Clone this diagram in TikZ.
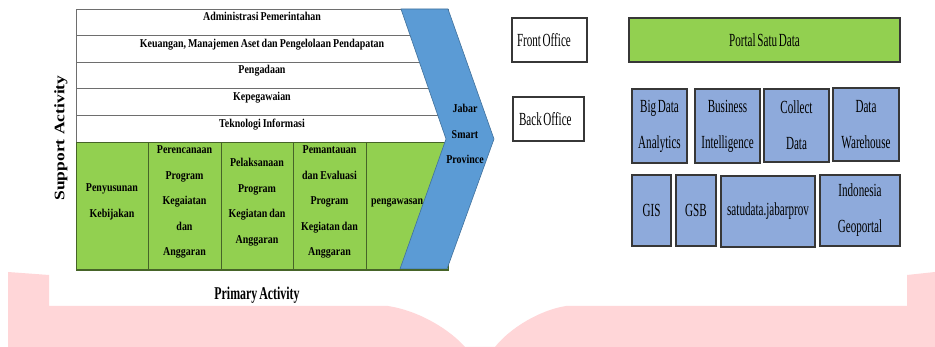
\documentclass[tikz,border=0pt]{standalone}
\usepackage{fontspec}
\setmainfont{Liberation Serif}
\newfontfamily\condB[FakeStretch=0.83,WordSpace=0.8]{Liberation Serif}
\newfontfamily\condR[FakeStretch=0.6,WordSpace=0.6]{Liberation Serif}
\newfontfamily\condP[FakeStretch=0.66,WordSpace=0.66]{Liberation Serif}
\usetikzlibrary{calc}
\definecolor{pinkbg}{RGB}{255,214,216}
\definecolor{grn}{RGB}{146,208,80}
\definecolor{grnline}{RGB}{70,100,40}
\definecolor{chev}{RGB}{91,155,213}
\definecolor{chevline}{RGB}{65,113,156}
\definecolor{lblue}{RGB}{142,170,219}
\definecolor{rowline}{RGB}{110,110,110}
\definecolor{boxline}{RGB}{55,55,55}
\tikzset{
  rowbox/.style={draw=rowline, fill=white, line width=0.9pt, minimum width=372pt, minimum height=26.6pt, inner sep=0pt, outer sep=0pt},
  cellbox/.style={draw=grnline, fill=grn, line width=0.9pt, minimum height=128pt, inner sep=0pt, outer sep=0pt},
  rowtxt/.style={font=\condB\bfseries\fontsize{12}{14}\selectfont, inner sep=0pt, text height=8.5pt, text depth=2.5pt},
  celltxt/.style={font=\condB\bfseries\fontsize{12}{25.5}\selectfont, align=center, inner sep=0pt},
  offbox/.style={draw=boxline, fill=white, line width=1.3pt, minimum height=44pt, inner sep=0pt, align=flush left, font=\condR\fontsize{18.5}{20}\selectfont},
  dbox/.style={draw=boxline, fill=lblue, line width=1.3pt, inner sep=0pt, align=center, font=\condR\fontsize{18.5}{36}\selectfont},
}
\begin{document}
\begin{tikzpicture}[x=1pt,y=-1pt]
\useasboundingbox (0,0) rectangle (935,347);
\fill[white] (0,0) rectangle (935,347);
% background watermark shape
\fill[pinkbg] (8,272) -- (49,275) -- (49,306) -- (388,306)
  .. controls (420,311) and (450,330) .. (465,347) -- (495,347)
  .. controls (510,328) and (540,310) .. (566,306) -- (907,306) -- (907,275)
  -- (935,272) -- (935,347) -- (8,347) -- cycle;

% support activity rows
\node[rowbox] (r1) at (262,22.3) {};
\node[rowbox] (r2) at (262,48.9) {};
\node[rowbox] (r3) at (262,75.5) {};
\node[rowbox] (r4) at (262,102.1) {};
\node[rowbox] (r5) at (262,128.7) {};
\node[rowtxt] (t1) at ($(r1)+(0,-4.5)$) {Administrasi Pemerintahan};
\node[rowtxt] (t2) at ($(r2)+(0,-4.5)$) {Keuangan, Manajemen Aset dan Pengelolaan Pendapatan};
\node[rowtxt] (t3) at ($(r3)+(0,-4.5)$) {Pengadaan};
\node[rowtxt] (t4) at ($(r4)+(0,-4.5)$) {Kepegawaian};
\node[rowtxt] (t5) at ($(r5)+(0,-4.5)$) {Teknologi Informasi};

% primary activity cells
\node[cellbox, minimum width=72pt] (c1) at (112,206) {};
\node[cellbox, minimum width=73pt] (c2) at (184.5,206) {};
\node[cellbox, minimum width=72pt] (c3) at (257,206) {};
\node[cellbox, minimum width=73pt] (c4) at (329.5,206) {};
\node[cellbox, minimum width=82pt] (c5) at (407,206) {};

% chevron
\fill[chev, draw=chevline, line width=0.6pt] (401,9) -- (448,9) -- (494,139) -- (447,269) -- (400,269) -- (446,139) -- cycle;
\draw[grnline, line width=1.2pt] (c1.south west) -- (c5.south east);

\node[celltxt] (ct1) at (112,202) {Penyusunan\\Kebijakan};
\node[celltxt] (ct2) at (184.5,202) {Perencanaan\\Program\\Kegaiatan\\dan\\Anggaran};
\node[celltxt] (ct3) at (257,202) {Pelaksanaan\\Program\\Kegiatan dan\\Anggaran};
\node[celltxt] (ct4) at (329.5,202) {Pemantauan\\dan Evaluasi\\Program\\Kegiatan dan\\Anggaran};
\node[rowtxt, anchor=west] (ct5) at (371,202) {pengawasan};
\node[celltxt] (jsp) at (465,134) {Jabar\\Smart\\Province};

% axis labels
\node[font=\bfseries\fontsize{17.5}{20}\selectfont, rotate=90, inner sep=0pt] (sa) at (61,138) {\scalebox{1}[0.83]{Support Activity}};
\node[font=\condP\bfseries\fontsize{18}{20}\selectfont, inner sep=0pt] (pa) at (257,295) {Primary Activity};

% right side
\node[offbox, minimum width=75pt, text width=65pt] (fo) at (549.5,40) {Front Office};
\node[offbox, minimum width=71pt, text width=59pt] (bo) at (548.5,119) {Back Office};
\node[dbox, fill=grn, minimum width=271pt, minimum height=44pt] (ps) at (764.5,40) {Portal Satu Data};

\node[dbox, minimum width=55pt, minimum height=74pt] (bd) at (659.5,126) {Big Data\\Analytics};
\node[dbox, minimum width=65pt, minimum height=74pt] (bi) at (727.5,126) {Business\\Intelligence};
\node[dbox, minimum width=65pt, minimum height=73pt] (cd) at (796.5,125.5) {Collect\\Data};
\node[dbox, minimum width=66pt, minimum height=73pt] (dw) at (866,124.5) {Data\\Warehouse};

\node[dbox, minimum width=39pt, minimum height=71pt] (gis) at (651.5,210.5) {GIS};
\node[dbox, minimum width=40pt, minimum height=71pt] (gsb) at (696,210.5) {GSB};
\node[dbox, minimum width=94pt, minimum height=71pt] (sj) at (768,211.5) {satudata.jabarprov};
\node[dbox, minimum width=80pt, minimum height=71pt] (ig) at (860,210.5) {Indonesia\\Geoportal};
\end{tikzpicture}
\end{document}
